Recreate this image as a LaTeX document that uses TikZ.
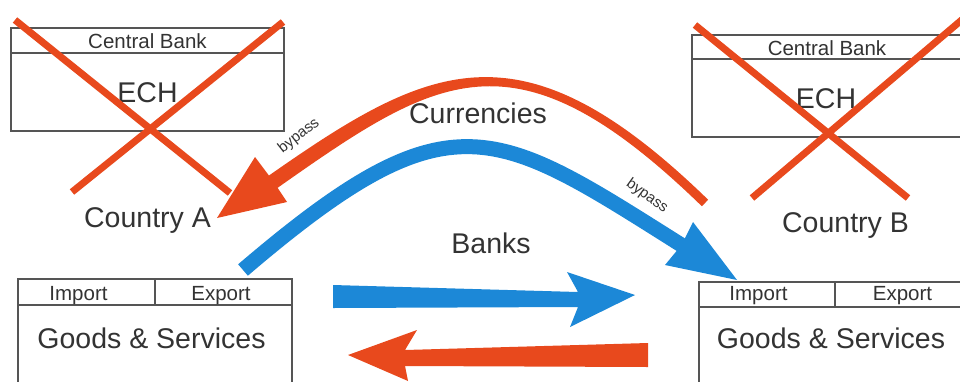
\documentclass[tikz,border=0pt]{standalone}
\usepackage{fontspec}
\setmainfont{Liberation Sans}
\definecolor{xred}{HTML}{E8491D}
\definecolor{xblue}{HTML}{1C88D7}
\definecolor{txt}{HTML}{333333}
\definecolor{boxline}{HTML}{555555}
\begin{document}
\begin{tikzpicture}[x=1pt,y=-1pt,
  lbl/.style={text=txt, inner sep=0, anchor=base, font=\fontsize{28.5}{30}\selectfont},
  small/.style={text=txt, inner sep=0, anchor=base, font=\fontsize{20.5}{22}\selectfont},
  tiny/.style={text=txt, inner sep=0, font=\fontsize{15}{16}\selectfont},
  frame/.style={draw=boxline, line width=1.6},
  cross/.style={draw=xred, line width=7},
  redfill/.style={fill=xred, draw=none},
  bluefill/.style={fill=xblue, draw=none}]
\useasboundingbox (0,0) rectangle (960,381);
\clip (0,0) rectangle (960,381);

% ---- central bank boxes
\draw[frame] (11,28) rectangle (284,131);
\draw[frame] (11,53) -- (284,53);
\draw[frame] (1000,35) -- (692,35) -- (692,137) -- (1000,137);
\draw[frame] (692,59) -- (1000,59);
\node[small] (cbA) at (147.5,48) {Central Bank};
\node[lbl] (echA) at (147.5,102) {ECH};
\node[small] (cbB) at (827,55) {Central Bank};
\node[lbl] (echB) at (826,108) {ECH};

% ---- goods & services boxes
\draw[frame] (18,395) -- (18,279) -- (292,279) -- (292,395);
\draw[frame] (18,305) -- (292,305);
\draw[frame] (155,279) -- (155,305);
\draw[frame] (699,395) -- (699,282) -- (1000,282);
\draw[frame] (699,307) -- (1000,307);
\draw[frame] (835,282) -- (835,307);
\node[small] (impA) at (78.5,300) {Import};
\node[small] (expA) at (221,300) {Export};
\node[lbl] (gsA) at (151.5,348) {Goods \& Services};
\node[small] (impB) at (758.5,300) {Import};
\node[small] (expB) at (902.5,300) {Export};
\node[lbl] (gsB) at (831,348) {Goods \& Services};

% ---- country labels
\node[lbl] (ctyA) at (147.5,227) {Country A};
\node[lbl] (ctyB) at (845.5,232) {Country B};
\node[lbl] (cur) at (478,123) {Currencies};
\node[lbl] (banks) at (491,253) {Banks};

% ---- crosses
\coordinate (xa1) at (15,20);  \coordinate (xa2) at (230,193);
\coordinate (xa3) at (283,22); \coordinate (xa4) at (72,192);
\coordinate (xb1) at (695,25); \coordinate (xb2) at (908,198);
\coordinate (xb3) at (964,18); \coordinate (xb4) at (752,198);
\draw[cross] (xa1) -- (xa2);
\draw[cross] (xa3) -- (xa4);
\draw[cross] (xb1) -- (xb2);
\draw[cross] (xb3) -- (xb4);

% ---- curved red arrow (currencies), tapering
\fill[redfill] (708.15,199.76) .. controls (519.05,15.96) and (427.88,63.66) .. (262.38,180.16)
  -- (271.02,192.44) .. controls (436.52,75.94) and (512.75,22.44) .. (701.85,206.24) -- cycle;
\coordinate (redtip) at (217,218);
\fill[redfill] (redtip) -- (255,157) -- (273,181) -- (287,202) -- cycle;

% ---- curved blue arrow (banks)
\coordinate (bluetail) at (243,270);
\coordinate (blueend) at (685,247.3);
\coordinate (bluetip) at (737,280);
\draw[xblue, line width=15, line cap=butt] (bluetail) .. controls (452.2,91.1) and (494.7,127.6) .. (blueend);
\fill[bluefill] (bluetip) -- (693,222) -- (681.5,245) -- (665,265) -- cycle;

% ---- bypass labels
\node[tiny, rotate=38] (bpA) at (299,136) {bypass};
\node[tiny, rotate=-36] (bpB) at (647,196) {bypass};

% ---- straight arrows
\fill[bluefill] (333,285) -- (578,292) -- (567,272) -- (635,295) -- (570,327) -- (578,307) -- (333,308) -- cycle;
\fill[redfill] (648,343) -- (405,350) -- (417,330) -- (348,355) -- (408,381) -- (405,366) -- (648,367) -- cycle;
\end{tikzpicture}
\end{document}
